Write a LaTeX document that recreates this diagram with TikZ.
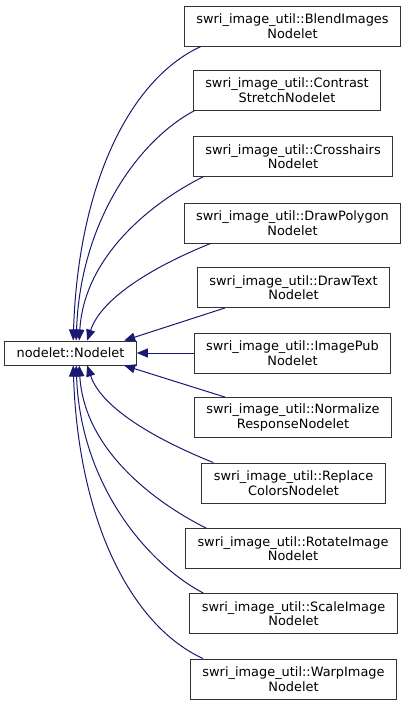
\documentclass[tikz,border=0pt]{standalone}
\usepackage{fontspec}
\setmainfont{DejaVu Sans}
\usetikzlibrary{arrows.meta}
\definecolor{edgeblue}{HTML}{191970}
\begin{document}
\begin{tikzpicture}[x=1pt, y=-1pt,
        c/.style={rectangle, draw=black!80, line width=0.9pt, minimum height=40pt, align=center,
                  inner xsep=12pt, inner ysep=0pt, font=\fontsize{12.9}{14.5}\selectfont},
        e/.style={draw=edgeblue, line width=1pt, -{Triangle[length=11pt,width=9pt]}}
    ]
        \useasboundingbox (0,0) rectangle (408,705);
        \node[c, minimum height=24pt] (base) at (70.5,353) {nodelet::Nodelet};

        \node[c] (blend)   at (292.5,26)  {swri\_image\_util::BlendImages\\Nodelet};
        \node[c] (contr)   at (287,90)    {swri\_image\_util::Contrast\\StretchNodelet};
        \node[c] (cross)   at (293,156.5) {swri\_image\_util::Crosshairs\\Nodelet};
        \node[c] (poly)    at (292.5,223) {swri\_image\_util::DrawPolygon\\Nodelet};
        \node[c] (dtext)   at (293.5,287.5) {swri\_image\_util::DrawText\\Nodelet};
        \node[c] (pub)     at (292.5,353) {swri\_image\_util::ImagePub\\Nodelet};
        \node[c] (norm)    at (293,417.5) {swri\_image\_util::Normalize\\ResponseNodelet};
        \node[c] (repl)    at (293.5,483) {swri\_image\_util::Replace\\ColorsNodelet};
        \node[c] (rot)     at (293,548.5) {swri\_image\_util::RotateImage\\Nodelet};
        \node[c] (scale)   at (293.5,613.5) {swri\_image\_util::ScaleImage\\Nodelet};
        \node[c] (warp)    at (293.5,679) {swri\_image\_util::WarpImage\\Nodelet};

        % upper children
        \draw[e] ([xshift=17pt]blend.south west) .. controls +(-72,33) and +(5,-155) .. ([xshift=69pt]base.north west);
        \draw[e] ([xshift=2pt]contr.south west) .. controls +(-57,30) and +(4,-118) .. ([xshift=72pt]base.north west);
        \draw[e] ([xshift=10pt]cross.south west) .. controls +(-50,25) and +(5,-85) .. ([xshift=75pt]base.north west);
        \draw[e] ([xshift=27pt]poly.south west) .. controls +(-50,20) and +(15,-45) .. ([xshift=83pt]base.north west);
        \draw[e] ([xshift=28pt]dtext.south west) -- ([xshift=120pt]base.north west);
        \draw[e] (pub.west) -- (base.east);
        % lower children
        \draw[e] ([xshift=31pt]norm.north west) -- ([xshift=120pt]base.south west);
        \draw[e] ([xshift=12pt]repl.north west) .. controls +(-50,-20) and +(15,45) .. ([xshift=83pt]base.south west);
        \draw[e] ([xshift=21pt]rot.north west) .. controls +(-50,-25) and +(5,85) .. ([xshift=75pt]base.south west);
        \draw[e] ([xshift=14pt]scale.north west) .. controls +(-57,-30) and +(4,118) .. ([xshift=72pt]base.south west);
        \draw[e] ([xshift=13pt]warp.north west) .. controls +(-72,-33) and +(5,155) .. ([xshift=69pt]base.south west);
    \end{tikzpicture}
\end{document}
